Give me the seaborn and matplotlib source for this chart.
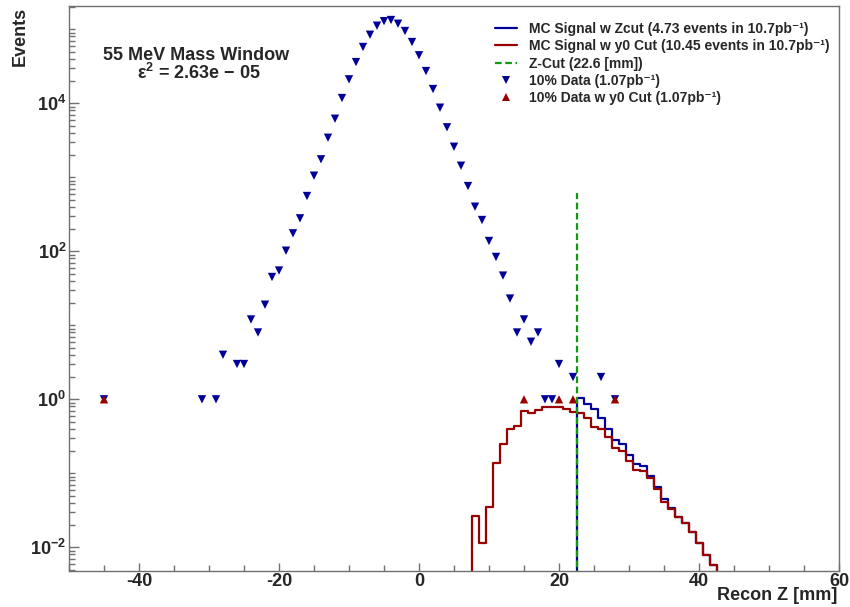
import numpy as np
import pandas as pd
import matplotlib
matplotlib.use("Agg")
import matplotlib.pyplot as plt
import seaborn as sns
from matplotlib.ticker import FixedLocator, LogLocator, NullFormatter, LogFormatterMathtext, MultipleLocator
from matplotlib.lines import Line2D

# ---------------- data ----------------
data_z = [-45, -31, -29, -28, -26, -25, -24, -23, -22, -21,
          -20, -19, -18, -17, -16, -15, -14, -13, -12, -11,
          -10, -9, -8, -7, -6, -5, -4, -3, -2, -1,
          0, 1, 2, 3, 4, 5, 6, 7, 8, 9, 10,
          11, 12, 13, 14, 15, 16, 17, 18, 19, 20,
          22, 26, 28]
data_counts = [1, 1, 1, 4, 3, 3, 12, 8, 19, 45,
               55, 102, 175, 279, 559, 1052, 1751, 3428, 6194, 11790,
               21100, 36100, 57700, 84500, 112000, 129000, 133600, 119000, 94900, 67300,
               44600, 27300, 15600, 8730, 4740, 2590, 1435, 762, 401, 265, 138,
               84, 47, 23, 8, 12, 6, 8, 1, 1, 3,
               2, 2, 1]

y0cut_z = [-45, 15, 20, 22, 28]
y0cut_counts = [1, 1, 1, 1, 1]

mc_y0_centers = list(range(8, 43))
mc_y0_values = [0.0267, 0.0115, 0.0354, 0.1365, 0.2465, 0.401, 0.4355, 0.689, 0.653, 0.716,
                0.787, 0.779, 0.779, 0.733, 0.673, 0.647, 0.559, 0.426, 0.401, 0.306,
                0.218, 0.202, 0.148, 0.111, 0.108, 0.0855, 0.0619, 0.0413, 0.0326, 0.0259,
                0.0215, 0.01625, 0.01153, 0.0078, 0.00577]

mc_zcut_centers = list(range(23, 43))
mc_zcut_values = [1.03, 0.864, 0.733, 0.553, 0.397, 0.282, 0.246, 0.177, 0.132, 0.126,
                  0.0929, 0.0659, 0.0446, 0.0336, 0.0259, 0.0215, 0.01625, 0.01153, 0.0078, 0.00577]

zcut = 22.6
zcut_line_top = 608

title_lines = ["55 MeV Mass Window", "\u03b5$^{2}$ = 2.63e \u2212 05"]
legend_labels = ["MC Signal w Zcut (4.73 events in 10.7pb\u207b\u00b9)",
                 "MC Signal w y0 Cut (10.45 events in 10.7pb\u207b\u00b9)",
                 "Z-Cut (22.6 [mm])",
                 "10% Data (1.07pb\u207b\u00b9)",
                 "10% Data w y0 Cut (1.07pb\u207b\u00b9)"]

BLUE = "#000099"
RED = "#990000"
GREEN = "#119911"
FRAME = "#707070"

# ---------------- style ----------------
sns.set_theme(style="white")
plt.rcParams['font.family'] = ['Liberation Sans', 'DejaVu Sans']
plt.rcParams['font.weight'] = 'bold'
plt.rcParams['mathtext.default'] = 'regular'
plt.rcParams['axes.unicode_minus'] = False

W, H = 850, 607
fig = plt.figure(figsize=(W / 100, H / 100), dpi=100)
L, R, T, B = 69, 839, 6, 570.5
ax = fig.add_axes([L / W, 1 - B / H, (R - L) / W, (B - T) / H])
ax.set_yscale('log')


def padded_frame(centers, values):
    c = list(centers)
    z = [c[0] - 1] + c + [c[-1] + 1]
    w = [0.0] + list(values) + [0.0]
    return pd.DataFrame({"z": z, "w": w}), (z[0] - 0.5, z[-1] + 0.5)


df_zc, rng_zc = padded_frame(mc_zcut_centers, mc_zcut_values)
sns.histplot(data=df_zc, x="z", weights="w", binwidth=1, binrange=rng_zc, element="step",
             fill=False, color=BLUE, linewidth=1.6, ax=ax)
df_y0h, rng_y0 = padded_frame(mc_y0_centers, mc_y0_values)
sns.histplot(data=df_y0h, x="z", weights="w", binwidth=1, binrange=rng_y0, element="step",
             fill=False, color=RED, linewidth=1.6, ax=ax)

df_data = pd.DataFrame({"z": data_z, "n": data_counts})
df_y0 = pd.DataFrame({"z": y0cut_z, "n": y0cut_counts})
sns.scatterplot(data=df_data, x="z", y="n", marker="v", s=36, color=BLUE,
                edgecolor="none", linewidth=0, ax=ax, zorder=3)
sns.scatterplot(data=df_y0, x="z", y="n", marker="^", s=36, color=RED,
                edgecolor="none", linewidth=0, ax=ax, zorder=4)

ax.plot([zcut, zcut], [1e-3, zcut_line_top], color=GREEN, linewidth=1.6,
        dashes=(3, 1.6), zorder=5)

ax.set_xlim(-50, 60)
ax.set_ylim(0.00486, 2.066e5)
ax.set_xlabel("")
ax.set_ylabel("")

# ticks
ax.xaxis.set_major_locator(MultipleLocator(20))
ax.xaxis.set_minor_locator(MultipleLocator(5))
ax.yaxis.set_major_locator(FixedLocator([1e-2, 1e0, 1e2, 1e4]))
ax.yaxis.set_major_formatter(LogFormatterMathtext())
ax.yaxis.set_minor_locator(LogLocator(base=10, subs=np.arange(1, 10), numticks=60))
ax.yaxis.set_minor_formatter(NullFormatter())
ax.tick_params(axis='both', which='both', direction='in', color=FRAME, width=1.0)
ax.tick_params(axis='x', which='major', length=6, pad=1.5, labelsize=13)
ax.tick_params(axis='x', which='minor', length=4.5)
ax.tick_params(axis='y', which='major', length=7, pad=2, labelsize=13)
ax.tick_params(axis='y', which='minor', length=4.5)
ax.tick_params(bottom=True, left=True, top=False, right=False, which='both')
for lbl in ax.get_xticklabels() + ax.get_yticklabels():
    lbl.set_fontweight('bold')

for s in ax.spines.values():
    s.set_color(FRAME)
    s.set_linewidth(1.0)
ax.grid(False)

# texts
fig.text(196 / W, 1 - 56 / H, title_lines[0], ha='center', va='center',
         fontsize=13, fontweight='bold')
fig.text(199 / W, 1 - 73 / H, title_lines[1], ha='center', va='center',
         fontsize=13, fontweight='bold')
fig.text(20 / W, 1 - 7 / H, "Events", rotation=90, ha='center', va='top',
         fontsize=13, fontweight='bold')
fig.text(837 / W, 1 - 596 / H, "Recon Z [mm]", ha='right', va='center',
         fontsize=13, fontweight='bold')

# legend
handles = [Line2D([], [], color=BLUE, linewidth=1.6),
           Line2D([], [], color=RED, linewidth=1.6),
           Line2D([], [], color=GREEN, linewidth=1.6, dashes=(3, 1.6)),
           Line2D([], [], color=BLUE, marker='v', linestyle='none', markersize=6,
                  markeredgewidth=0),
           Line2D([], [], color=RED, marker='^', linestyle='none', markersize=6,
                  markeredgewidth=0)]
leg = ax.legend(handles, legend_labels, loc='upper left',
                bbox_to_anchor=(495 / W, 1 - 22 / H), bbox_transform=fig.transFigure,
                frameon=False, fontsize=10, handlelength=1.6, handletextpad=0.85,
                labelspacing=0.24, borderpad=0, borderaxespad=0)
for t in leg.get_texts():
    t.set_fontweight('bold')

fig.savefig("out.png", dpi=100)
